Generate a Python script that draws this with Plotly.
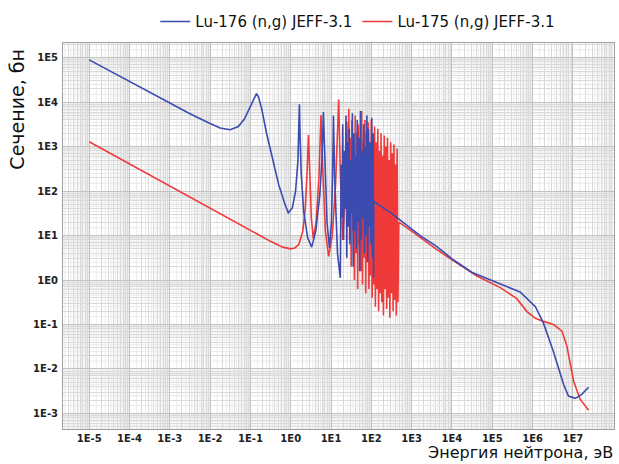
import numpy as np
import plotly.graph_objects as go

# ---------------- data (log10 values) ----------------
# Lu-176 (n,g) JEFF-3.1 : log10(E, eV) and log10(sigma, barn)
lu176_log_e = [
    -5.0, -4.5, -4.0, -3.5, -3.0, -2.5, -2.0, -1.75, -1.5, -1.3, -1.15, -1.0, -0.9,
    -0.85, -0.8, -0.72, -0.6, -0.45, -0.3, -0.15, -0.06, 0.04, 0.12, 0.18, 0.20,
    0.215, 0.23, 0.26, 0.32, 0.42, 0.52, 0.62, 0.72, 0.78, 0.81, 0.84, 0.9, 0.96,
    1.01, 1.04, 1.06, 1.09, 1.16, 1.23,
    1.25, 1.27, 1.29, 1.31, 1.33, 1.35, 1.37, 1.39, 1.41, 1.43, 1.45, 1.47, 1.49,
    1.51, 1.53, 1.55, 1.57, 1.59, 1.61, 1.63, 1.65, 1.67, 1.69, 1.71, 1.73, 1.75,
    1.77, 1.79, 1.81, 1.83, 1.85, 1.87, 1.89, 1.91, 1.93, 1.95, 1.97, 1.99, 2.01,
    2.03, 2.045, 2.055, 2.06,
    2.5, 3.0, 3.21, 3.6, 4.04, 4.5, 5.12, 5.69, 6.07, 6.27, 6.52, 6.77, 6.89,
    7.06, 7.22, 7.39,
]
lu176_log_xs = [
    4.95, 4.71, 4.47, 4.22, 3.98, 3.74, 3.52, 3.42, 3.38, 3.45, 3.62, 3.90, 4.12,
    4.19, 4.12, 3.85, 3.30, 2.70, 2.15, 1.72, 1.51, 1.62, 2.00, 2.70, 3.30,
    3.95, 3.30, 2.40, 1.55, 0.95, 0.74, 1.10, 1.90, 2.80, 3.78, 2.80, 1.30, 0.72,
    1.30, 2.40, 3.70, 2.30, 0.60, 0.05,
    2.60, 1.40, 3.50, 0.90, 2.90, 1.60, 3.70, 0.50, 3.10, 1.20, 3.40, 0.80, 2.70,
    1.50, 3.75, 0.30, 3.30, 1.10, 2.80, 0.70, 3.60, 1.30, 3.20, 0.20, 3.80, 0.90,
    2.90, 1.40, 3.50, 0.60, 3.00, 1.00, 3.70, 0.40, 3.40, 1.20, 3.10, 0.80, 3.65,
    0.50, 3.30, 0.06, 1.77,
    1.50, 1.15, 1.00, 0.77, 0.45, 0.17, -0.06, -0.27, -0.60, -0.97, -1.62, -2.35, -2.61,
    -2.66, -2.57, -2.41,
]

# Lu-175 (n,g) JEFF-3.1
lu175_log_e = [
    -5.0, -4.0, -3.0, -2.0, -1.0, -0.5, -0.2, 0.0, 0.1, 0.2, 0.3, 0.36, 0.41,
    0.44, 0.47, 0.51, 0.56, 0.63, 0.70, 0.75, 0.79, 0.86, 0.94, 1.03, 1.11, 1.19,
    1.23, 1.29, 1.35, 1.39, 1.42,
    1.44, 1.46, 1.48, 1.50, 1.52, 1.54, 1.56, 1.58, 1.60, 1.62, 1.64, 1.66, 1.68,
    1.70, 1.72, 1.74, 1.76, 1.78, 1.80, 1.82, 1.84, 1.86, 1.88, 1.90, 1.92, 1.94,
    1.96, 1.98, 2.00, 2.02, 2.04, 2.06, 2.08, 2.10, 2.12, 2.14, 2.16, 2.18, 2.20,
    2.22, 2.24, 2.26, 2.28, 2.30, 2.32, 2.34, 2.36, 2.38, 2.40, 2.42, 2.44, 2.46,
    2.48, 2.50, 2.52, 2.54, 2.56, 2.58, 2.60, 2.62, 2.64, 2.66, 2.68,
    3.0, 3.21, 3.6, 4.04, 4.62, 5.2, 5.61, 5.86, 6.07, 6.27, 6.52, 6.73, 6.85,
    7.02, 7.18, 7.39,
]
lu175_log_xs = [
    3.11, 2.61, 2.11, 1.61, 1.12, 0.87, 0.74, 0.70, 0.72, 0.80, 1.10, 1.60, 2.50,
    3.26, 2.50, 1.40, 0.93, 1.30, 2.30, 3.71, 2.60, 1.10, 0.53, 1.00, 2.10, 4.06,
    2.40, 0.90, 1.90, 3.56, 1.50,
    3.85, 0.90, 3.20, 0.30, 3.60, 1.10, 2.90, 0.00, 3.70, 0.60, 3.30, -0.20, 3.50,
    0.80, 3.00, 0.20, 3.80, -0.10, 3.10, 0.50, 3.60, -0.30, 3.30, 0.40, 3.55, -0.20,
    2.90, 0.10, 3.60, -0.40, 3.20, -0.10, 3.45, -0.60, 3.10, -0.20, 3.40, -0.70, 2.90,
    -0.30, 3.30, -0.50, 2.80, -0.80, 3.25, -0.20, 3.00, -0.65, 3.20, -0.40, 2.70, -0.85,
    3.10, -0.30, 2.85, -0.70, 3.05, -0.45, 2.60, -0.80, 2.95, -0.50, 1.30,
    1.10, 0.96, 0.70, 0.43, 0.09, -0.17, -0.42, -0.71, -0.86, -0.93, -1.00, -1.15, -1.48,
    -2.28, -2.68, -2.93,
]

x_tick_exponents = list(range(-5, 8))
y_tick_exponents = list(range(-3, 6))
x_tick_labels = ["1E%d" % k for k in x_tick_exponents]
y_tick_labels = ["1E%d" % k for k in y_tick_exponents]

series_names = ["Lu-176 (n,g) JEFF-3.1", "Lu-175 (n,g) JEFF-3.1"]
series_colors = ["#3b4bb0", "#f03a3a"]

x_range = [-5.65, 8.02]
y_range = [-3.35, 5.33]

# ---------------- figure ----------------
fig = go.Figure()
# red drawn first so blue sits on top
fig.add_trace(go.Scatter(
    x=np.power(10.0, lu175_log_e), y=np.power(10.0, lu175_log_xs),
    mode="lines", name=series_names[1],
    line=dict(color=series_colors[1], width=1.6),
))
fig.add_trace(go.Scatter(
    x=np.power(10.0, lu176_log_e), y=np.power(10.0, lu176_log_xs),
    mode="lines", name=series_names[0],
    line=dict(color=series_colors[0], width=1.6),
))

# extra fine grid lines (half steps inside each decade) to mimic the dense grid
fine_steps = [1.5, 2.5, 3.5, 4.5, 5.5, 6.5, 7.5, 8.5, 9.5]
shapes = []
for k in range(-6, 9):
    for m in fine_steps:
        v = m * 10.0 ** k
        lv = np.log10(v)
        if x_range[0] < lv < x_range[1]:
            shapes.append(dict(type="line", xref="x", yref="paper", x0=v, x1=v, y0=0, y1=1,
                               line=dict(color="#ebebeb", width=1), layer="below"))
        if y_range[0] < lv < y_range[1]:
            shapes.append(dict(type="line", xref="paper", yref="y", x0=0, x1=1, y0=v, y1=v,
                               line=dict(color="#ebebeb", width=1), layer="below"))

tick_font = dict(family="DejaVu Sans", size=10, color="#222222", weight="bold")
major_grid = "#c2c2c2"
minor_grid = "#dadada"

fig.update_xaxes(
    type="log", range=x_range,
    tickmode="array", tickvals=[10.0 ** k for k in x_tick_exponents], ticktext=x_tick_labels,
    tickfont=tick_font, ticks="", ticklabelstandoff=0,
    showgrid=True, gridcolor=major_grid, gridwidth=1,
    minor=dict(dtick="D1", showgrid=True, gridcolor=minor_grid, gridwidth=1, ticks=""),
    showline=True, linecolor="#a0a0a0", linewidth=1, mirror=True, zeroline=False,
)
fig.update_yaxes(
    type="log", range=y_range,
    tickmode="array", tickvals=[10.0 ** k for k in y_tick_exponents], ticktext=y_tick_labels,
    tickfont=tick_font, ticks="", ticklabelstandoff=2,
    showgrid=True, gridcolor=major_grid, gridwidth=1,
    minor=dict(dtick="D1", showgrid=True, gridcolor=minor_grid, gridwidth=1, ticks=""),
    showline=True, linecolor="#a0a0a0", linewidth=1, mirror=True, zeroline=False,
)

fig.update_layout(
    width=619, height=464,
    margin=dict(l=63, r=5, t=32, b=35),
    paper_bgcolor="white", plot_bgcolor="white",
    font=dict(family="DejaVu Sans", color="#111111"),
    showlegend=True,
    shapes=shapes,
    legend=dict(
        orientation="h", traceorder="reversed",
        x=0.535, xanchor="center", y=1.055, yanchor="middle",
        font=dict(family="DejaVu Sans", size=15, color="#111111"),
        bgcolor="rgba(0,0,0,0)", itemwidth=30,
    ),
    annotations=[
        dict(text="Сечение, бн", xref="paper", yref="paper",
             x=-0.083, y=0.99, xanchor="center", yanchor="top",
             textangle=-90, showarrow=False,
             font=dict(family="DejaVu Sans", size=19, color="#111111")),
        dict(text="Энергия нейтрона, эВ", xref="paper", yref="paper",
             x=1.0, y=-0.0882, xanchor="right", yanchor="bottom",
             showarrow=False, borderpad=0,
             font=dict(family="DejaVu Sans", size=16, color="#111111")),
    ],
)

fig.write_html("out.html")
